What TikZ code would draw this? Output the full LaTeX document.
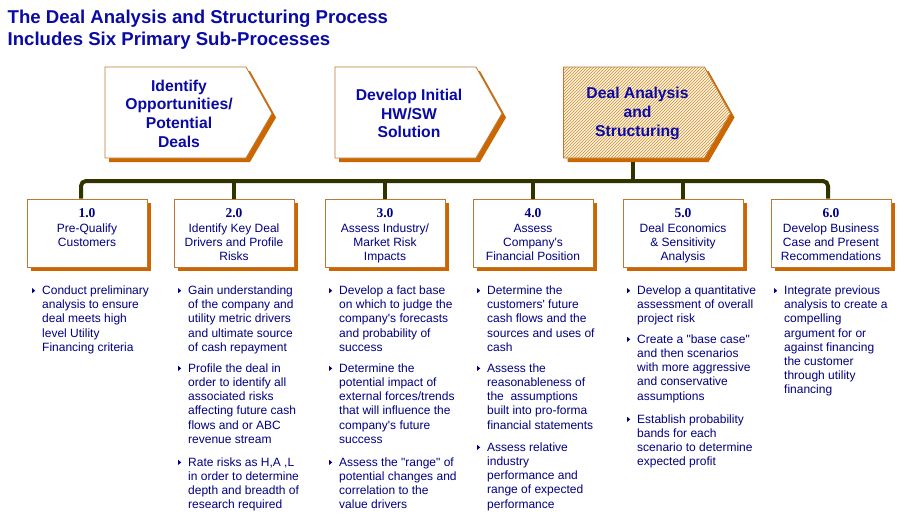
\documentclass[tikz,border=0pt]{standalone}
\usepackage{fontspec}
\setmainfont{Liberation Sans}[Ligatures=TeXOff]
\newfontfamily\numfont{Liberation Serif}
\usetikzlibrary{shadows,patterns,backgrounds}
\definecolor{titleblue}{RGB}{10,10,165}
\definecolor{textblue}{RGB}{0,0,130}
\definecolor{dealorange}{RGB}{204,102,0}
\definecolor{edgebrown}{RGB}{190,120,50}
\definecolor{hatchbrown}{RGB}{200,140,70}
\definecolor{hatchcream}{RGB}{255,244,212}
\definecolor{busolive}{RGB}{51,51,0}

% small triangle in front of each bullet text
\newcommand{\bul}{\llap{\tikz[baseline=0pt]\fill[textblue] (0pt,1.3pt) -- (0pt,6.3pt) -- (3pt,3.8pt) -- cycle;\hspace{7pt}}}
% outline of a chevron around its text node
\newcommand{\chevron}[1]{([shift={(-74,-46.5)}]#1.center) -- ([shift={(67,-46.5)}]#1.center) -- ([shift={(93,0)}]#1.center) -- ([shift={(67,44.5)}]#1.center) -- ([shift={(-74,44.5)}]#1.center) -- cycle}

\begin{document}
\begin{tikzpicture}[x=1pt,y=-1pt,
    orangeshadow/.style={drop shadow={shadow xshift=4pt,shadow yshift=-4pt,fill=dealorange,opacity=1}},
    titletext/.style={anchor=north west,inner sep=0pt,align=left,text=titleblue,
        font=\fontsize{18.6}{22}\selectfont\bfseries},
    chevtext/.style={inner sep=0pt,align=center,text=titleblue,
        font=\fontsize{15.7}{18.6}\selectfont\bfseries},
    chevline/.style={draw=edgebrown,line width=0.8pt},
    subbox/.style={draw=edgebrown,fill=white,line width=0.8pt,minimum width=120pt,
        minimum height=68pt,inner sep=0pt,orangeshadow},
    subtext/.style={anchor=north,inner sep=0pt,align=center,text=textblue,
        font=\fontsize{12}{14}\selectfont},
    notetext/.style={anchor=north west,inner sep=0pt,align=left,text=textblue,
        font=\fontsize{12}{14.2}\selectfont},
    buswire/.style={busolive,line width=4pt}]
\useasboundingbox (0,0) rectangle (904,517);

% title
\node[titletext] (title) at (7.5,10.2) {The Deal Analysis and Structuring Process\\Includes Six Primary Sub-Processes};

% top level chevrons
\node[chevtext] (c1) at (179,113.5) {Identify\\Opportunities/\\Potential\\Deals};
\node[chevtext] (c2) at (409,113.5) {Develop Initial\\HW/SW\\Solution};
\node[chevtext] (c3) at (637.5,113.5) {Deal Analysis\\and\\Structuring};
\coordinate (c3foot) at ([shift={(-4.5,44.5)}]c3.center);

\begin{scope}[on background layer]
    \fill[white] (0,0) rectangle (904,517);
    \foreach \c in {c1,c2}
        \draw[chevline,orangeshadow,fill=white] \chevron{\c};
    % the current step is hatched
    \fill[orangeshadow,fill=hatchcream] \chevron{c3};
    \fill[pattern=north east lines,pattern color=hatchbrown] \chevron{c3};
    \draw[chevline] \chevron{c3};
\end{scope}

% sub-process boxes
\node[subbox] (b1) at (87,233) {};
\node[subbox] (b2) at (234,233) {};
\node[subbox] (b3) at (385,233) {};
\node[subbox] (b4) at (533,233) {};
\node[subbox] (b5) at (683,233) {};
\node[subbox] (b6) at (831,233) {};

\node[subtext] (t1) at ([yshift=-10pt]b1.north) {{\numfont\bfseries\fontsize{13.5}{14}\selectfont 1.0}\\[1pt]Pre-Qualify\\Customers};
\node[subtext] (t2) at ([yshift=-10pt]b2.north) {{\numfont\bfseries\fontsize{13.5}{14}\selectfont 2.0}\\[1pt]Identify Key Deal\\Drivers and Profile\\Risks};
\node[subtext] (t3) at ([yshift=-10pt]b3.north) {{\numfont\bfseries\fontsize{13.5}{14}\selectfont 3.0}\\[1pt]Assess Industry/\\Market Risk\\Impacts};
\node[subtext] (t4) at ([yshift=-10pt]b4.north) {{\numfont\bfseries\fontsize{13.5}{14}\selectfont 4.0}\\[1pt]Assess\\Company's\\Financial Position};
\node[subtext] (t5) at ([yshift=-10pt]b5.north) {{\numfont\bfseries\fontsize{13.5}{14}\selectfont 5.0}\\[1pt]Deal Economics\\\& Sensitivity\\Analysis};
\node[subtext] (t6) at ([yshift=-10pt]b6.north) {{\numfont\bfseries\fontsize{13.5}{14}\selectfont 6.0}\\[1pt]Develop Business\\Case and Present\\Recommendations};

% bus from the current step to every box
\coordinate (bus) at (455,181);
\draw[buswire,rounded corners=5pt] ([xshift=-6pt]b1.north) |- (bus) -| ([xshift=-3pt]b6.north);
\foreach \b in {b2,b3,b4,b5}
    \draw[buswire] (\b.north) -- (\b.north |- bus);
\draw[buswire] ([yshift=-4pt]c3foot) -- (c3foot |- bus);

% activities under each box
\node[notetext] (n1a) at (42,285.6) {\bul Conduct preliminary\\analysis to ensure\\deal meets high\\level Utility\\Financing criteria};

\node[notetext] (n2a) at (188,285.6) {\bul Gain understanding\\of the company and\\utility metric drivers\\and ultimate source\\of cash repayment};
\node[notetext] (n2b) at (188,363.3) {\bul Profile the deal in\\order to identify all\\associated risks\\affecting future cash\\flows and or ABC\\revenue stream};
\node[notetext] (n2c) at (188,457.3) {\bul Rate risks as H,A ,L\\in order to determine\\depth and breadth of\\research required};

\node[notetext] (n3a) at (339,285.6) {\bul Develop a fact base\\on which to judge the\\company's forecasts\\and probability of\\success};
\node[notetext] (n3b) at (339,363.3) {\bul Determine the\\potential impact of\\external forces/trends\\that will influence the\\company's future\\success};
\node[notetext] (n3c) at (339,457.3) {\bul Assess the "range" of\\potential changes and\\correlation to the\\value drivers};

\node[notetext] (n4a) at (487,285.6) {\bul Determine the\\customers' future\\cash flows and the\\sources and uses of\\cash};
\node[notetext] (n4b) at (487,363.3) {\bul Assess the\\reasonableness of\\the\ \ assumptions\\built into pro-forma\\financial statements};
\node[notetext] (n4c) at (487,442.3) {\bul Assess relative\\industry\\performance and\\range of expected\\performance};

\node[notetext] (n5a) at (637,285.6) {\bul Develop a quantitative\\assessment of overall\\project risk};
\node[notetext] (n5b) at (637,334.3) {\bul Create a "base case"\\and then scenarios\\with more aggressive\\and conservative\\assumptions};
\node[notetext] (n5c) at (637,414.3) {\bul Establish probability\\bands for each\\scenario to determine\\expected profit};

\node[notetext] (n6a) at (784,285.6) {\bul Integrate previous\\analysis to create a\\compelling\\argument for or\\against financing\\the customer\\through utility\\financing};
\end{tikzpicture}
\end{document}
